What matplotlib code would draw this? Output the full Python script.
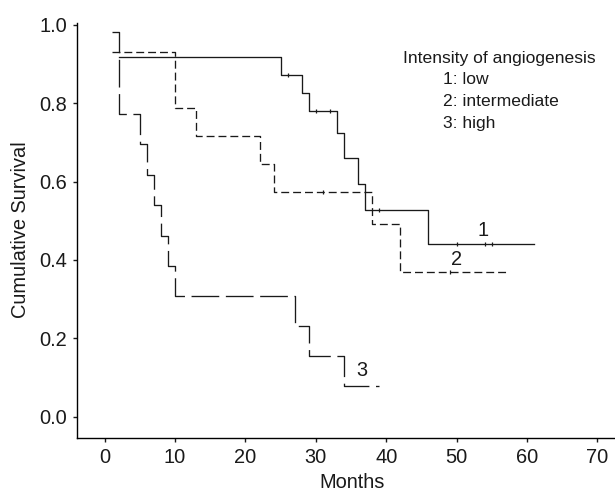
import matplotlib
matplotlib.use("Agg")
import matplotlib.pyplot as plt

plt.rcParams['font.family'] = ['Liberation Sans', 'DejaVu Sans']

# Kaplan-Meier step data (months, cumulative survival)
low_t = [2, 25, 28, 29, 33, 34, 36, 37, 46, 61]
low_s = [0.917, 0.872, 0.827, 0.781, 0.725, 0.660, 0.594, 0.528, 0.440, 0.440]
low_cens_t = [26, 30, 32, 39, 50, 54, 55]
low_cens_s = [0.872, 0.781, 0.781, 0.528, 0.440, 0.440, 0.440]

mid_t = [1, 10, 13, 22, 24, 38, 42, 57]
mid_s = [0.930, 0.789, 0.717, 0.645, 0.574, 0.492, 0.370, 0.370]
mid_cens_t = [31, 49]
mid_cens_s = [0.574, 0.370]

high_t = [1, 2, 5, 6, 7, 8, 9, 10, 27, 29, 34, 39]
high_s = [0.981, 0.772, 0.695, 0.617, 0.540, 0.462, 0.385, 0.309, 0.232, 0.155, 0.078, 0.078]

curve_labels = ["1", "2", "3"]
label_pos = [(53.8, 0.476), (50.0, 0.402), (36.5, 0.119)]
legend_title = "Intensity of angiogenesis"
legend_items = ["1: low", "2: intermediate", "3: high"]

W, H = 615, 492
fig = plt.figure(figsize=(W / 100, H / 100), dpi=100)
ax = fig.add_axes([76.5 / W, (H - 438.3) / H, (W - 76.5) / W, (438.3 - 23.3) / H])

col = "#1a1a1a"
lw = 0.95
ax.step(low_t, low_s, where="post", color=col, lw=lw)
ax.step(mid_t, mid_s, where="post", color=col, lw=lw, dashes=(6, 3))
ax.step(high_t, high_s, where="post", color=col, lw=lw, dashes=(21, 5))
ax.plot(low_cens_t, low_cens_s, ls="none", marker="|", ms=3, mew=0.9, color=col)
ax.plot(mid_cens_t, mid_cens_s, ls="none", marker="|", ms=3, mew=0.9, color=col)

for lab, (x, y) in zip(curve_labels, label_pos):
    ax.text(x, y, lab, fontsize=14.4, ha="center", va="center", color=col)

ax.set_xlim(-4, 72.5)
ax.set_ylim(-0.055, 1.004)
ax.set_xticks(range(0, 71, 10))
ax.set_yticks([0.0, 0.2, 0.4, 0.6, 0.8, 1.0])
ax.set_yticklabels(["0.0", "0.2", "0.4", "0.6", "0.8", "1.0"])
ax.spines["top"].set_visible(False)
ax.spines["right"].set_visible(False)
ax.spines["left"].set_linewidth(1.0)
ax.spines["bottom"].set_linewidth(1.0)
ax.tick_params(direction="out", length=3, width=1.0, labelsize=14.4, pad=4, colors=col)

fig.text(352 / W, 1 - 482 / H, "Months", fontsize=14.4, ha="center", va="center", color=col)
fig.text(20 / W, 1 - 230 / H, "Cumulative Survival", fontsize=14.4, rotation=90,
         ha="center", va="center", color=col)

fig.text(403 / W, 1 - 58 / H, legend_title, fontsize=12.6, ha="left", va="center", color=col)
for i, item in enumerate(legend_items):
    fig.text(443 / W, 1 - (80 + 22 * i) / H, item, fontsize=12.6, ha="left", va="center", color=col)

fig.savefig("out.png", dpi=100)
